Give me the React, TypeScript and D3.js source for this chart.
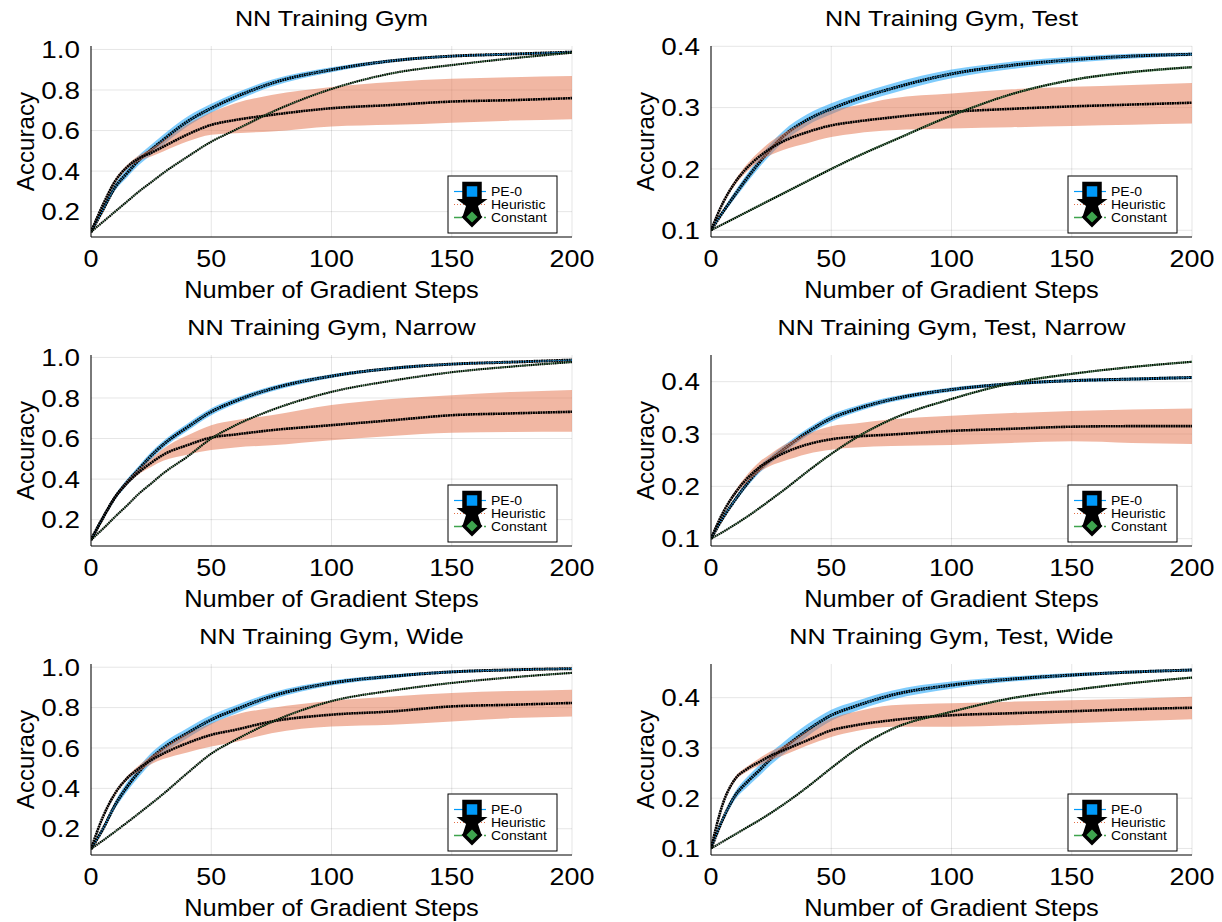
import React from 'react';
import * as d3 from 'd3';

// gradient steps at which values were read
const steps = [0, 5, 10, 15, 20, 25, 30, 40, 50, 60, 75, 100, 125, 150, 175, 200];
const xTicks = [0, 50, 100, 150, 200];

// NN Training Gym
const gymPe = [0.10, 0.21, 0.32, 0.39, 0.455, 0.505, 0.554, 0.644, 0.71, 0.765, 0.833, 0.90, 0.944, 0.967, 0.977, 0.987];
const gymPeSpread = [0, 0.009, 0.016, 0.021, 0.024, 0.025, 0.025, 0.024, 0.022, 0.02, 0.017, 0.012, 0.008, 0.006, 0.005, 0.004];
const gymHeur = [0.10, 0.235, 0.35, 0.42, 0.464, 0.49, 0.52, 0.58, 0.628, 0.652, 0.677, 0.71, 0.726, 0.743, 0.75, 0.76];
const gymHeurLo = [0.10, 0.23, 0.34, 0.41, 0.45, 0.472, 0.497, 0.546, 0.579, 0.587, 0.595, 0.62, 0.628, 0.639, 0.649, 0.656];
const gymHeurHi = [0.10, 0.24, 0.36, 0.43, 0.478, 0.51, 0.55, 0.63, 0.69, 0.735, 0.775, 0.815, 0.84, 0.855, 0.863, 0.869];
const gymConst = [0.10, 0.15, 0.2, 0.25, 0.30, 0.345, 0.39, 0.47, 0.545, 0.603, 0.69, 0.805, 0.882, 0.923, 0.956, 0.984];

// NN Training Gym, Test
const testPe = [0.10, 0.13, 0.158, 0.185, 0.21, 0.233, 0.253, 0.28, 0.298, 0.313, 0.331, 0.355, 0.369, 0.378, 0.384, 0.387];
const testPeSpread = [0, 0.004, 0.006, 0.007, 0.008, 0.009, 0.009, 0.009, 0.009, 0.008, 0.008, 0.007, 0.006, 0.005, 0.004, 0.003];
const testHeur = [0.10, 0.145, 0.178, 0.202, 0.22, 0.234, 0.245, 0.26, 0.271, 0.277, 0.284, 0.293, 0.298, 0.302, 0.305, 0.308];
const testHeurLo = [0.10, 0.143, 0.174, 0.196, 0.212, 0.223, 0.231, 0.242, 0.252, 0.258, 0.263, 0.266, 0.268, 0.27, 0.272, 0.274];
const testHeurHi = [0.10, 0.147, 0.182, 0.208, 0.228, 0.245, 0.258, 0.277, 0.295, 0.303, 0.315, 0.323, 0.33, 0.334, 0.337, 0.34];
const testConst = [0.10, 0.11, 0.12, 0.13, 0.14, 0.15, 0.16, 0.18, 0.2, 0.219, 0.245, 0.287, 0.322, 0.345, 0.358, 0.366];

// NN Training Gym, Narrow
const narrowPe = [0.10, 0.21, 0.31, 0.385, 0.45, 0.515, 0.57, 0.655, 0.732, 0.785, 0.845, 0.908, 0.946, 0.967, 0.977, 0.987];
const narrowPeSpread = [0, 0.007, 0.012, 0.015, 0.017, 0.018, 0.018, 0.018, 0.017, 0.015, 0.013, 0.009, 0.007, 0.005, 0.004, 0.003];
const narrowHeur = [0.10, 0.21, 0.31, 0.38, 0.435, 0.48, 0.52, 0.567, 0.605, 0.62, 0.641, 0.666, 0.69, 0.715, 0.724, 0.732];
const narrowHeurLo = [0.10, 0.208, 0.305, 0.372, 0.425, 0.46, 0.49, 0.52, 0.543, 0.556, 0.567, 0.592, 0.612, 0.628, 0.632, 0.633];
const narrowHeurHi = [0.10, 0.212, 0.315, 0.39, 0.45, 0.5, 0.55, 0.615, 0.666, 0.69, 0.715, 0.765, 0.795, 0.814, 0.83, 0.84];
const narrowConst = [0.10, 0.155, 0.214, 0.27, 0.329, 0.378, 0.428, 0.51, 0.6, 0.665, 0.74, 0.83, 0.885, 0.927, 0.955, 0.977];

// NN Training Gym, Test, Narrow
const testNarrowPe = [0.10, 0.14, 0.174, 0.205, 0.232, 0.252, 0.27, 0.303, 0.33, 0.347, 0.366, 0.385, 0.396, 0.402, 0.405, 0.408];
const testNarrowPeSpread = [0, 0.003, 0.005, 0.006, 0.007, 0.007, 0.007, 0.007, 0.007, 0.006, 0.005, 0.004, 0.003, 0.003, 0.003, 0.003];
const testNarrowHeur = [0.10, 0.15, 0.187, 0.215, 0.236, 0.251, 0.263, 0.28, 0.29, 0.295, 0.299, 0.306, 0.31, 0.314, 0.315, 0.315];
const testNarrowHeurLo = [0.10, 0.148, 0.183, 0.208, 0.227, 0.24, 0.248, 0.262, 0.27, 0.274, 0.277, 0.279, 0.283, 0.286, 0.283, 0.281];
const testNarrowHeurHi = [0.10, 0.152, 0.191, 0.222, 0.246, 0.263, 0.278, 0.3, 0.315, 0.32, 0.328, 0.335, 0.34, 0.344, 0.347, 0.349];
const testNarrowConst = [0.10, 0.113, 0.127, 0.142, 0.158, 0.175, 0.192, 0.228, 0.262, 0.292, 0.328, 0.367, 0.397, 0.415, 0.428, 0.438];

// NN Training Gym, Wide
const widePe = [0.10, 0.2, 0.317, 0.408, 0.483, 0.549, 0.599, 0.673, 0.74, 0.79, 0.856, 0.922, 0.955, 0.977, 0.987, 0.993];
const widePeSpread = [0, 0.011, 0.018, 0.023, 0.025, 0.026, 0.026, 0.025, 0.023, 0.021, 0.017, 0.012, 0.009, 0.007, 0.005, 0.004];
const wideHeur = [0.10, 0.26, 0.375, 0.45, 0.5, 0.54, 0.572, 0.624, 0.665, 0.69, 0.731, 0.765, 0.781, 0.806, 0.814, 0.823];
const wideHeurLo = [0.10, 0.255, 0.367, 0.44, 0.485, 0.52, 0.545, 0.578, 0.607, 0.63, 0.673, 0.706, 0.715, 0.731, 0.748, 0.756];
const wideHeurHi = [0.10, 0.265, 0.383, 0.46, 0.515, 0.56, 0.598, 0.67, 0.723, 0.765, 0.798, 0.834, 0.855, 0.872, 0.882, 0.889];
const wideConst = [0.10, 0.142, 0.186, 0.231, 0.277, 0.324, 0.372, 0.475, 0.572, 0.64, 0.728, 0.832, 0.884, 0.922, 0.95, 0.972];

// NN Training Gym, Test, Wide
const testWidePe = [0.10, 0.159, 0.205, 0.232, 0.255, 0.279, 0.299, 0.335, 0.365, 0.383, 0.405, 0.425, 0.437, 0.445, 0.451, 0.455];
const testWidePeSpread = [0, 0.005, 0.008, 0.01, 0.011, 0.012, 0.012, 0.012, 0.011, 0.01, 0.009, 0.007, 0.005, 0.004, 0.003, 0.003];
const testWideHeur = [0.10, 0.19, 0.238, 0.258, 0.272, 0.285, 0.295, 0.315, 0.335, 0.345, 0.355, 0.365, 0.369, 0.373, 0.377, 0.38];
const testWideHeurLo = [0.10, 0.188, 0.234, 0.253, 0.265, 0.276, 0.285, 0.305, 0.322, 0.333, 0.342, 0.342, 0.345, 0.349, 0.353, 0.357];
const testWideHeurHi = [0.10, 0.192, 0.242, 0.263, 0.279, 0.294, 0.304, 0.333, 0.359, 0.372, 0.385, 0.389, 0.392, 0.395, 0.398, 0.402];
const testWideConst = [0.10, 0.114, 0.128, 0.142, 0.156, 0.171, 0.187, 0.222, 0.26, 0.296, 0.337, 0.372, 0.399, 0.415, 0.429, 0.44];

const gymConstSpread = [0, 0.002, 0.003, 0.003, 0.003, 0.003, 0.003, 0.003, 0.003, 0.003, 0.003, 0.003, 0.003, 0.003, 0.003, 0.003];
const testConstSpread = [0, 0.001, 0.0015, 0.0018, 0.002, 0.002, 0.002, 0.002, 0.002, 0.002, 0.002, 0.002, 0.002, 0.002, 0.002, 0.002];

const gymTicks = [0.2, 0.4, 0.6, 0.8, 1.0];
const testTicks = [0.1, 0.2, 0.3, 0.4];

const seriesNames = ['PE-0', 'Heuristic', 'Constant'];
const BLUE = '#009AFA';
const ORANGE = '#E36F47';
const GREEN = '#3EA44E';

const panels = [
  { title: 'NN Training Gym', domain: [0.075, 1.017], ticks: gymTicks, pe: gymPe, peS: gymPeSpread, h: gymHeur, hLo: gymHeurLo, hHi: gymHeurHi, c: gymConst, cS: gymConstSpread },
  { title: 'NN Training Gym, Test', domain: [0.089, 0.4005], ticks: testTicks, pe: testPe, peS: testPeSpread, h: testHeur, hLo: testHeurLo, hHi: testHeurHi, c: testConst, cS: testConstSpread },
  { title: 'NN Training Gym, Narrow', domain: [0.07, 1.012], ticks: gymTicks, pe: narrowPe, peS: narrowPeSpread, h: narrowHeur, hLo: narrowHeurLo, hHi: narrowHeurHi, c: narrowConst, cS: gymConstSpread },
  { title: 'NN Training Gym, Test, Narrow', domain: [0.086, 0.451], ticks: testTicks, pe: testNarrowPe, peS: testNarrowPeSpread, h: testNarrowHeur, hLo: testNarrowHeurLo, hHi: testNarrowHeurHi, c: testNarrowConst, cS: testConstSpread },
  { title: 'NN Training Gym, Wide', domain: [0.07, 1.016], ticks: gymTicks, pe: widePe, peS: widePeSpread, h: wideHeur, hLo: wideHeurLo, hHi: wideHeurHi, c: wideConst, cS: gymConstSpread },
  { title: 'NN Training Gym, Test, Wide', domain: [0.087, 0.467], ticks: testTicks, pe: testWidePe, peS: testWidePeSpread, h: testWideHeur, hLo: testWideHeurLo, hHi: testWideHeurHi, c: testWideConst, cS: testConstSpread },
];

const FONT = 'Liberation Sans, Arial, sans-serif';
const SX = 1.12; // horizontal stretch of the GR text
const colLeft = [91, 711];
const rowTop = [46, 355, 664];
const PW = 481;
const PH = 191;

function Panel({ p, idx }) {
  const x0 = colLeft[idx % 2];
  const y0 = rowTop[Math.floor(idx / 2)];
  const x = d3.scaleLinear().domain([0, 200]).range([x0, x0 + PW]);
  const y = d3.scaleLinear().domain(p.domain).range([y0 + PH, y0]);

  const band = (lo, hi) =>
    d3.area<number>().x((d) => x(d)).y0((d, i) => y(lo[i])).y1((d, i) => y(hi[i])).curve(d3.curveMonotoneX)(steps);
  const line = (v) =>
    d3.line<number>().x((d) => x(d)).y((d, i) => y(v[i])).curve(d3.curveMonotoneX)(steps);

  const peLo = p.pe.map((v, i) => v - p.peS[i]);
  const peHi = p.pe.map((v, i) => v + p.peS[i]);
  const cLo = p.c.map((v, i) => v - p.cS[i]);
  const cHi = p.c.map((v, i) => v + p.cS[i]);
  const clipId = `clip${idx}`;
  const fmt = d3.format('.1f');
  const cx = x0 + PW / 2;

  // legend box
  const lx = x0 + PW - 124;
  const ly = y0 + PH - 61;

  return (
    <g>
      <defs>
        <clipPath id={clipId}>
          <rect x={x0} y={y0 - 2} width={PW + 2} height={PH + 2} />
        </clipPath>
      </defs>
      <text transform={`translate(${cx},${y0 - 20}) scale(${SX},1)`} textAnchor="middle" fontSize={22.5} fontFamily={FONT}>{p.title}</text>
      {/* grid */}
      {p.ticks.map((t) => (
        <line key={'gy' + t} x1={x0} x2={x0 + PW} y1={y(t)} y2={y(t)} stroke="#000" strokeOpacity={0.1} />
      ))}
      {xTicks.map((t) => (
        <line key={'gx' + t} x1={x(t)} x2={x(t)} y1={y0} y2={y0 + PH} stroke="#000" strokeOpacity={0.1} />
      ))}
      <g clipPath={`url(#${clipId})`}>
        {/* PE-0 */}
        <path d={band(peLo, peHi)} fill={BLUE} fillOpacity={0.5} />
        <path d={line(p.pe)} fill="none" stroke="#000" strokeWidth={3} strokeDasharray="2 0.5" />
        <path d={line(p.pe)} fill="none" stroke={BLUE} strokeWidth={1} strokeDasharray="1 1.4" />
        {/* Heuristic */}
        <path d={band(p.hLo, p.hHi)} fill={ORANGE} fillOpacity={0.5} />
        <path d={line(p.h)} fill="none" stroke="#000" strokeWidth={2.6} strokeDasharray="2 0.5" />
        {/* Constant */}
        <path d={band(cLo, cHi)} fill={GREEN} fillOpacity={0.5} />
        <path d={line(p.c)} fill="none" stroke="#000" strokeWidth={2.2} strokeDasharray="1.6 0.6" />
        <path d={line(p.c)} fill="none" stroke={GREEN} strokeWidth={0.8} strokeDasharray="0.8 1.6" />
      </g>
      {/* axes */}
      <line x1={x0} x2={x0} y1={y0} y2={y0 + PH} stroke="#000" strokeWidth={1} />
      <line x1={x0} x2={x0 + PW} y1={y0 + PH} y2={y0 + PH} stroke="#000" strokeWidth={1} />
      {p.ticks.map((t) => (
        <text key={'ty' + t} transform={`translate(${x0 - 11},${y(t) + 8.6}) scale(1.16,1)`} textAnchor="end" fontSize={24} fontFamily={FONT}>{fmt(t)}</text>
      ))}
      {xTicks.map((t) => (
        <text key={'tx' + t} transform={`translate(${x(t)},${y0 + PH + 30}) scale(${SX},1)`} textAnchor="middle" fontSize={24} fontFamily={FONT}>{t}</text>
      ))}
      <text transform={`translate(${cx},${y0 + PH + 61}) scale(1.08,1)`} textAnchor="middle" fontSize={23.5} fontFamily={FONT}>Number of Gradient Steps</text>
      <text transform={`translate(${x0 - 57},${y0 + PH / 2}) rotate(-90) scale(1.05,1)`} textAnchor="middle" fontSize={23} fontFamily={FONT}>Accuracy</text>
      {/* legend */}
      <g>
        <rect x={lx} y={ly} width={109} height={57} fill="#fff" stroke="#000" strokeWidth={1} />
        <line x1={lx + 6} x2={lx + 38} y1={ly + 15.5} y2={ly + 15.5} stroke={BLUE} strokeWidth={1.2} />
        <line x1={lx + 6} x2={lx + 38} y1={ly + 28.5} y2={ly + 28.5} stroke={ORANGE} strokeWidth={1.2} strokeDasharray="1 2" />
        <line x1={lx + 6} x2={lx + 38} y1={ly + 41.5} y2={ly + 41.5} stroke={GREEN} strokeWidth={1.5} strokeDasharray="8 3 1 3" />
        <path d={d3.symbol(d3.symbolStar, 170)()} transform={`translate(${lx + 24},${ly + 28})`} fill="#000" stroke="#000" strokeWidth={2.5} />
        <rect x={lx + 16.5} y={ly + 8} width={15} height={15} fill={BLUE} stroke="#000" strokeWidth={4.5} />
        <path d="M0,-8L8,0L0,8L-8,0Z" transform={`translate(${lx + 24},${ly + 41})`} fill={GREEN} stroke="#000" strokeWidth={3.5} />
        {seriesNames.map((s, i) => (
          <text key={s} transform={`translate(${lx + 43},${ly + 19.5 + i * 13.4}) scale(${SX},1)`} fontSize={12.5} fontFamily={FONT}>{s}</text>
        ))}
      </g>
    </g>
  );
}

export default function App() {
  return (
    <div style={{ position: 'absolute', left: 0, top: 0, background: '#fff' }}>
      <svg width={1222} height={922} style={{ display: 'block' }}>
        <rect width={1222} height={922} fill="#fff" />
        {panels.map((p, i) => (
          <Panel key={p.title} p={p} idx={i} />
        ))}
      </svg>
    </div>
  );
}
